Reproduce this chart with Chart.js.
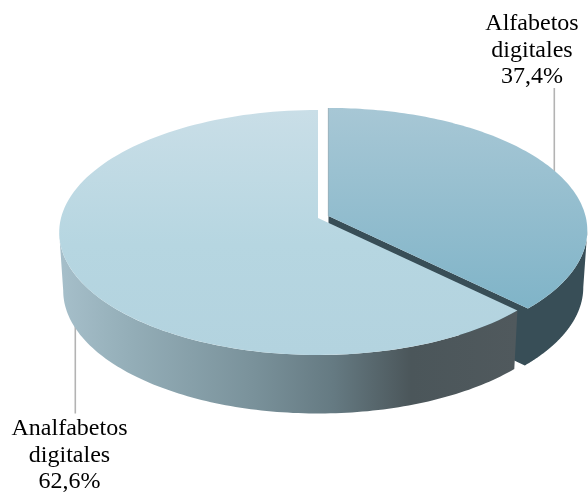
<!DOCTYPE html>
<html>
<head>
<meta charset="utf-8">
<style>
  html, body { margin: 0; padding: 0; background: #fff; }
  canvas { display: block; }
</style>
<script src="https://cdn.jsdelivr.net/npm/chart.js@4/dist/chart.umd.min.js"></script>
</head>
<body>
<canvas id="pie" width="588" height="496"></canvas>
<script>
// Datos del gráfico
const categories = [['Alfabetos', 'digitales'], ['Analfabetos', 'digitales']];
const values = [37.4, 62.6];
const valueLabels = ['37,4%', '62,6%'];

// Colores de cada porción
const topColors = [
    [[0, '#a7c7d5'], [1, '#80b4c8']],
    [[0, '#c9dee7'], [0.55, '#b6d6e1'], [1, '#b3d3df']]
];
const wallColors = [
    [[0, '#384e57'], [1, '#384e57']],
    [[0, '#a6bfca'], [0.15, '#94aeb8'], [0.42, '#7a929b'], [0.6, '#657a82'], [0.77, '#4b565a'], [1, '#50595d']]
];

// Proyección en perspectiva del disco
const persp = 0.118;
const topDisc = { cx: 318, cy: 218, rx: 257, ry: 120.8 };
const bottomDisc = { cx: 318, cy: 276.3, rx: 253, ry: 121 };
const topShift = [{ x: 10.5, y: -2 }, { x: 0, y: 0 }];
const bottomShift = [{ x: 10.5, y: -3.5 }, { x: 0, y: 0 }];

function project(disc, shift, angle, r) {
    // angle medido desde arriba, en sentido horario
    const u = Math.sin(angle) * r;
    const v = -Math.cos(angle) * r;
    const w = 1 - persp * v;
    return { x: disc.cx + shift.x + disc.rx * u / w, y: disc.cy + shift.y + disc.ry * v / w };
}

function arcPath(ctx, disc, shift, from, to) {
    const steps = 120;
    for (let i = 0; i <= steps; i++) {
        const p = project(disc, shift, from + (to - from) * i / steps, 1);
        ctx.lineTo(p.x, p.y);
    }
}

function gradient(ctx, stops, x0, y0, x1, y1) {
    const g = ctx.createLinearGradient(x0, y0, x1, y1);
    stops.forEach(s => g.addColorStop(s[0], s[1]));
    return g;
}

// Pared exterior; con withCut se incluye también la cara del corte
function drawWall(ctx, i, from, to, fill, withCut) {
    ctx.beginPath();
    arcPath(ctx, topDisc, topShift[i], from, to);
    if (withCut) {
        const a = project(topDisc, topShift[i], to, 0);
        const d = project(bottomDisc, bottomShift[i], to, 0);
        ctx.lineTo(a.x, a.y);
        ctx.lineTo(d.x, d.y);
    }
    arcPath(ctx, bottomDisc, bottomShift[i], to, from);
    ctx.closePath();
    ctx.fillStyle = fill;
    ctx.fill();
}

function drawTop(ctx, i, from, to, fill) {
    const o = project(topDisc, topShift[i], 0, 0);
    ctx.beginPath();
    ctx.moveTo(o.x, o.y);
    arcPath(ctx, topDisc, topShift[i], from, to);
    ctx.closePath();
    ctx.fillStyle = fill;
    ctx.fill();
}

function drawLeader(ctx, x, y0, y1, color, width) {
    ctx.strokeStyle = color;
    ctx.lineWidth = width;
    ctx.beginPath();
    ctx.moveTo(x, y0);
    ctx.lineTo(x, y1);
    ctx.stroke();
}

function drawLabel(ctx, lines, x, y) {
    ctx.font = '24px "Liberation Serif"';
    ctx.fillStyle = '#000';
    ctx.textAlign = 'center';
    ctx.textBaseline = 'alphabetic';
    lines.forEach((line, i) => ctx.fillText(line, x, y + i * 26.5));
}

// Dibuja las porciones en 3D a partir de los ángulos que calcula Chart.js
const pie3d = {
    id: 'pie3d',
    beforeDatasetsDraw(chart) {
        const ctx = chart.ctx;
        const arcs = chart.getDatasetMeta(0).data;
        const angles = arcs.map(a => ({
            from: a.startAngle + Math.PI / 2,
            to: a.endAngle + Math.PI / 2
        }));
        // ángulo en el que el borde del disco es tangente a la vertical
        const edge = Math.asin(persp);
        ctx.save();

        drawLeader(ctx, 554.3, 88, 174, '#b3b3b3', 1.6);
        drawLeader(ctx, 75.3, 318, 413.5, '#b3b3b3', 1.6);

        // Alfabetos digitales
        const a0 = angles[0];
        drawWall(ctx, 0, Math.PI / 2 + edge, a0.to, gradient(ctx, wallColors[0], 330, 0, 588, 0), true);
        drawLeader(ctx, 328.4, 108, 216, '#6f858f', 0.8);
        drawTop(ctx, 0, a0.from, a0.to, gradient(ctx, topColors[0], 0, 108, 0, 308));

        // Analfabetos digitales
        const a1 = angles[1];
        drawWall(ctx, 1, a1.from, Math.PI * 1.5 - edge, gradient(ctx, wallColors[1], 60, 0, 516, 0), false);
        drawTop(ctx, 1, a1.from, a1.to, gradient(ctx, topColors[1], 0, 110, 0, 355));

        ctx.restore();

        drawLabel(ctx, categories[0].concat(valueLabels[0]), 532, 30);
        drawLabel(ctx, categories[1].concat(valueLabels[1]), 69.5, 435);
        return false;
    }
};

new Chart(document.getElementById('pie'), {
    type: 'pie',
    data: {
        labels: categories.map(c => c.join(' ')),
        datasets: [{ data: values, backgroundColor: ['#8fbccd', '#bcd8e2'] }]
    },
    options: {
        responsive: false,
        animation: false,
        plugins: { legend: { display: false }, tooltip: { enabled: false } }
    },
    plugins: [pie3d]
});
</script>
</body>
</html>
